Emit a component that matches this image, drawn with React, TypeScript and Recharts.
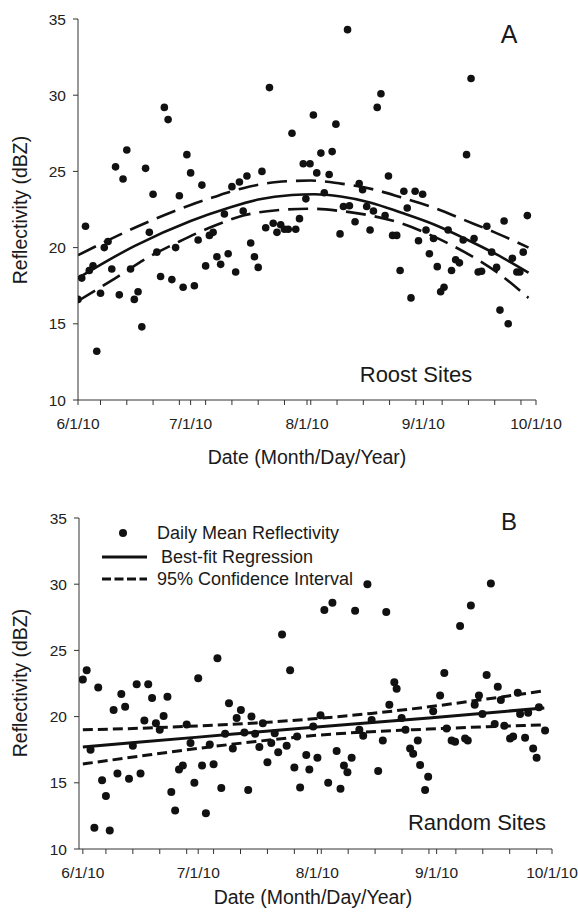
import React from "react";
import { ComposedChart, Scatter, Line, XAxis, YAxis } from "recharts";

const FONT = '"Liberation Sans", Arial, Helvetica, sans-serif';
const INK = "#111";

// x values are days counted from 6/1/10
const monthTicks = [0, 30, 61, 92, 122];
const monthLabels = ["6/1/10", "7/1/10", "8/1/10", "9/1/10", "10/1/10"];
const weekTicks = [6, 13, 20, 27, 34, 41, 48, 55, 62, 69, 76, 83, 90, 97, 104, 111, 118];
const yTicks = [10, 15, 20, 25, 30, 35];

// Panel A - roost sites, daily means
const roostDays = [
  0, 1, 2, 3, 4, 5, 6, 7, 8, 9, 10, 11, 12, 13, 14, 15, 16, 17, 18, 19, 20, 21, 22, 23, 24, 25, 26, 27, 28, 29,
  30, 31, 32, 33, 34, 35, 36, 37, 38, 39, 40, 41, 42, 43, 44, 45, 46, 47, 48, 49, 50, 51, 52, 53, 54, 55, 56, 57,
  58, 59, 60, 60.7, 61.8, 62.7, 63.6, 64.7, 65.6, 66.9, 67.7, 68.7, 69.8, 70.7, 71.8, 72.3, 73.8, 74.9, 75.8,
  76.9, 77.8, 78.7, 79.7, 80.7, 81.8, 82.7, 83.8, 84.9, 85.8, 86.8, 87.7, 88.7, 89.8, 90.7, 91.8, 92.7, 93.6,
  94.7, 95.7, 96.6, 97.5, 98.6, 99.5, 100.6, 101.6, 102.6, 103.5, 104.7, 105.5, 106.6, 107.5, 108.9, 110.2,
  111.5, 112.4, 113.5, 114.6, 115.7, 116.9, 117.7, 118.6, 119.7,
];
const roostVals = [
  16.6, 18.0, 21.4, 18.5, 18.8, 13.2, 17.0, 20.0, 20.4, 18.6, 25.3, 16.9, 24.5, 26.4, 18.6, 16.6, 17.1, 14.8,
  25.2, 21.0, 23.5, 19.7, 18.1, 29.2, 28.4, 17.9, 20.0, 23.4, 17.4, 26.1, 24.9, 17.5, 20.5, 24.1, 18.8, 20.8,
  21.0, 19.4, 18.9, 22.2, 19.6, 24.0, 18.4, 24.3, 22.4, 24.7, 20.3, 19.4, 18.7, 25.0, 21.3, 30.5, 21.6, 21.0,
  21.5, 21.2, 21.2, 27.5, 21.2, 21.9, 25.5, 23.2, 25.5, 28.7, 24.9, 26.2, 23.6, 24.8, 26.3, 28.1, 20.9, 22.7,
  34.3, 22.75, 21.7, 24.2, 23.8, 22.7, 21.15, 22.4, 29.2, 30.1, 22.1, 24.7, 20.8, 20.8, 18.5, 23.7, 22.6, 16.7,
  23.7, 20.45, 23.5, 21.15, 19.6, 20.6, 18.75, 17.1, 17.4, 21.15, 18.5, 19.2, 19.0, 20.5, 26.1, 31.1, 20.6,
  18.4, 18.45, 21.4, 19.7, 18.7, 15.9, 21.75, 15.0, 19.3, 18.4, 18.4, 19.7, 22.1,
];
const roostFitDays = [0, 15, 30, 40, 48, 57, 63, 70, 78, 86, 95, 103, 111.5, 120];
const roostFitVals = [18.0, 20.1, 21.75, 22.6, 23.15, 23.45, 23.5, 23.35, 22.95, 22.3, 21.5, 20.6, 19.55, 18.35];
const roostUpDays = [0, 16, 30, 36, 44, 53, 62, 70, 79, 86, 95, 103, 111, 120];
const roostUpVals = [19.5, 21.4, 22.8, 23.3, 23.9, 24.3, 24.4, 24.2, 23.8, 23.3, 22.6, 21.8, 21.0, 20.0];
const roostLoDays = [0, 10, 19, 27, 36, 44, 53, 62, 70, 78, 86, 95, 103, 111.5, 120];
const roostLoVals = [16.5, 18.0, 19.4, 20.4, 21.4, 22.1, 22.45, 22.55, 22.4, 22.1, 21.6, 20.7, 19.7, 18.4, 16.7];

// Panel B - random sites, daily means
const randomDays = [
  0, 1, 2, 3, 4, 5, 6, 7, 8, 9, 10, 11, 12, 13, 14, 15, 16, 17, 18, 19, 20, 21, 22, 23, 24, 25, 26, 27, 28, 29,
  30, 31, 32, 33, 34, 35, 36, 37, 38, 39, 40, 41.1, 42, 43, 43.85, 44.8, 45.9, 46.8, 48, 49, 49.9, 50.8, 51.8,
  53, 53.9, 55, 55.7, 56.5, 58.1, 58.9, 59.9, 61, 61.8, 62.8, 63.8, 64.9, 66, 67, 67.9, 68.8, 69.9, 70.8, 71.9,
  72.9, 74, 75.1, 76.8, 78, 78.9, 79.7, 81, 81.6, 82.9, 83.9, 85.1, 85.9, 87.1, 87.7, 89, 89.8, 91.1, 92.9, 94,
  94.6, 95.9, 96.8, 98.1, 99.4, 100.1, 100.9, 101.9, 103, 103.9, 105, 106.1, 107.1, 107.9, 108.7, 109.6, 111.1,
  111.9, 113.1, 113.7, 115, 115.8, 117.1, 118, 118.6, 120.2,
];
const randomVals = [
  22.8, 23.5, 17.5, 11.6, 22.2, 15.2, 14.0, 11.4, 20.5, 15.7, 21.7, 20.75, 15.3, 17.8, 22.45, 15.7, 19.7, 22.45,
  21.4, 19.5, 19.0, 20.05, 21.5, 14.3, 12.9, 16.0, 16.3, 19.4, 18.0, 15.0, 22.9, 16.3, 12.7, 17.9, 16.4, 24.4,
  14.6, 18.7, 21.0, 17.6, 19.9, 20.5, 18.8, 14.45, 20.0, 18.7, 17.7, 19.5, 16.55, 18.0, 18.75, 17.3, 26.2, 17.8,
  23.5, 16.15, 18.5, 14.65, 17.1, 16.0, 19.25, 16.9, 20.1, 28.05, 15.0, 28.6, 17.4, 14.55, 16.3, 15.8, 16.9,
  28.0, 19.0, 18.55, 30.0, 19.75, 15.9, 18.2, 27.9, 20.9, 22.6, 22.1, 19.9, 19.0, 17.6, 17.2, 18.2, 16.35,
  14.45, 15.45, 20.4, 21.6, 23.3, 19.1, 18.2, 18.1, 26.85, 18.35, 18.2, 28.4, 20.9, 21.6, 20.2, 23.15, 30.05,
  19.45, 22.25, 21.25, 19.3, 18.35, 18.5, 21.8, 20.2, 18.4, 20.3, 17.6, 16.9, 20.7, 18.95,
];
const randomFitDays = [0, 30, 60, 90, 120];
const randomFitVals = [17.7, 18.45, 19.2, 19.9, 20.65];
const randomBandDays = [0, 15, 30, 45, 60, 75, 90, 105, 120];
const randomUpVals = [19.0, 19.12, 19.3, 19.52, 19.83, 20.24, 20.74, 21.33, 21.95];
const randomLoVals = [16.42, 17.02, 17.6, 18.12, 18.57, 18.86, 19.06, 19.23, 19.37];

const zip = (days: number[], vals: number[]) => days.map((d, i) => ({ d, v: vals[i] }));

const allTicks = [...monthTicks, ...weekTicks].sort((a, b) => a - b);
const fmtDay = (v: number) => {
  const i = monthTicks.indexOf(v);
  return i >= 0 ? monthLabels[i] : "";
};

type PanelProps = {
  top: number;
  height: number;
  margin: { top: number; right: number; left: number; bottom: number };
  yWidth: number;
  xHeight: number;
  xDomain: [number, number];
  points: { d: number; v: number }[];
  fit: { d: number; v: number }[];
  upper: { d: number; v: number }[];
  lower: { d: number; v: number }[];
  dash: string;
  lineW: number;
  dotR: number;
  curve: "monotone" | "linear";
};

function Panel(p: PanelProps) {
  const Dot = (props: any) => <circle cx={props.cx} cy={props.cy} r={p.dotR} fill={INK} />;
  const tickStyle = { fill: "#222", fontSize: 15.5, fontFamily: FONT };
  return (
    <div style={{ position: "absolute", left: 0, top: p.top }}>
      <ComposedChart width={578} height={p.height} margin={p.margin}>
        <XAxis
          type="number"
          dataKey="d"
          domain={p.xDomain}
          allowDataOverflow
          ticks={allTicks}
          interval={0}
          tickFormatter={fmtDay}
          tickSize={5}
          tickMargin={12.5}
          height={p.xHeight}
          tick={tickStyle}
          axisLine={{ stroke: "#333" }}
          tickLine={{ stroke: "#333" }}
        />
        <YAxis
          type="number"
          dataKey="v"
          domain={[10, 35]}
          allowDataOverflow
          ticks={yTicks}
          interval={0}
          tickSize={5}
          tickMargin={7}
          width={p.yWidth}
          tick={tickStyle}
          axisLine={{ stroke: "#333" }}
          tickLine={{ stroke: "#333" }}
        />
        <Line data={p.upper} dataKey="v" type={p.curve} stroke={INK} strokeWidth={p.lineW} strokeDasharray={p.dash} dot={false} isAnimationActive={false} />
        <Line data={p.lower} dataKey="v" type={p.curve} stroke={INK} strokeWidth={p.lineW} strokeDasharray={p.dash} dot={false} isAnimationActive={false} />
        <Line data={p.fit} dataKey="v" type={p.curve} stroke={INK} strokeWidth={p.lineW} dot={false} isAnimationActive={false} />
        <Scatter data={p.points} dataKey="v" shape={Dot} isAnimationActive={false} />
      </ComposedChart>
    </div>
  );
}

function Txt({ x, y, size, children, anchor = "middle", rotate = false }: any) {
  const tx = anchor === "middle" ? "-50%" : "0";
  return (
    <div
      style={{
        position: "absolute",
        left: x,
        top: y,
        fontFamily: FONT,
        fontSize: size,
        lineHeight: 1,
        color: "#1a1a1a",
        whiteSpace: "nowrap",
        transform: `translate(${tx}, -50%)${rotate ? " rotate(-90deg)" : ""}`,
        transformOrigin: rotate ? "0 50%" : undefined,
      }}
    >
      {children}
    </div>
  );
}

function YTitle({ x, y }: { x: number; y: number }) {
  return (
    <div
      style={{
        position: "absolute",
        left: x,
        top: y,
        fontFamily: FONT,
        fontSize: 19.5,
        lineHeight: 1,
        color: "#1a1a1a",
        whiteSpace: "nowrap",
        transform: "translate(-50%, -50%) rotate(-90deg)",
      }}
    >
      Reflectivity (dBZ)
    </div>
  );
}

export default function App() {
  return (
    <div style={{ position: "absolute", left: 0, top: 0, width: 578, height: 915, background: "#fff" }}>
      <Panel
        top={0}
        height={470}
        margin={{ top: 19, right: 42, left: 0, bottom: 0 }}
        yWidth={78}
        xHeight={70}
        xDomain={[0, 122]}
        points={zip(roostDays, roostVals)}
        fit={zip(roostFitDays, roostFitVals)}
        upper={zip(roostUpDays, roostUpVals)}
        lower={zip(roostLoDays, roostLoVals)}
        dash="20 9"
        lineW={2.6}
        dotR={3.8}
        curve="monotone"
      />
      <Panel
        top={470}
        height={445}
        margin={{ top: 48, right: 26, left: 0, bottom: 0 }}
        yWidth={79}
        xHeight={66}
        xDomain={[-1, 122]}
        points={zip(randomDays, randomVals)}
        fit={zip(randomFitDays, randomFitVals)}
        upper={zip(randomBandDays, randomUpVals)}
        lower={zip(randomBandDays, randomLoVals)}
        dash="10 5"
        lineW={3}
        dotR={4}
        curve="monotone"
      />

      <YTitle x={21} y={210} />
      <Txt x={307} y={458} size={19.5}>Date (Month/Day/Year)</Txt>
      <Txt x={509} y={34} size={25}>A</Txt>
      <Txt x={416} y={375} size={22}>Roost Sites</Txt>

      <YTitle x={21} y={683} />
      <Txt x={313} y={898} size={19.5}>Date (Month/Day/Year)</Txt>
      <Txt x={509} y={522} size={24}>B</Txt>
      <Txt x={477} y={823} size={22}>Random Sites</Txt>

      <svg style={{ position: "absolute", left: 0, top: 0 }} width={578} height={915} pointerEvents="none">
        <circle cx={123} cy={533} r={4} fill={INK} />
        <line x1={102} y1={557} x2={147} y2={557} stroke={INK} strokeWidth={3} />
        <line x1={102} y1={579} x2={147} y2={579} stroke={INK} strokeWidth={3} strokeDasharray="9 3.5" />
      </svg>
      <Txt x={157} y={533} size={18} anchor="start">Daily Mean Reflectivity</Txt>
      <Txt x={161} y={557} size={18} anchor="start">Best-fit Regression</Txt>
      <Txt x={157} y={579} size={18} anchor="start">95% Confidence Interval</Txt>
    </div>
  );
}
